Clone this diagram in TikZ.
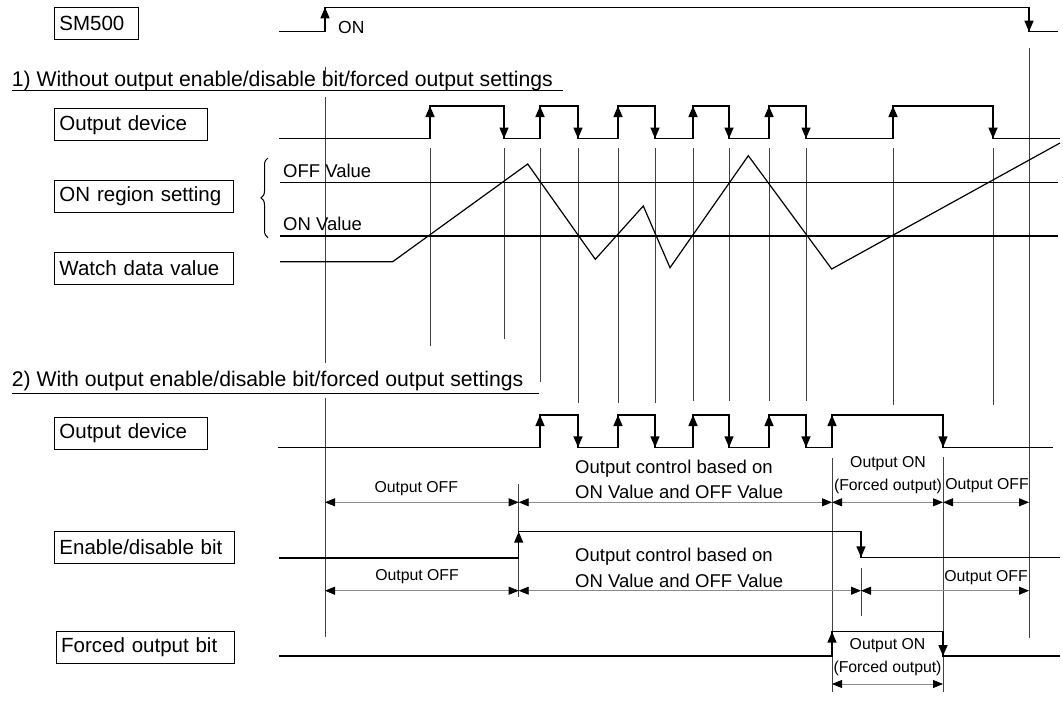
\documentclass[tikz,border=0pt]{standalone}
\usepackage{fontspec}
\setmainfont{Liberation Sans}
\usepackage{tikz}
\usetikzlibrary{positioning, arrows.meta, decorations.pathreplacing}
\definecolor{dimgray}{HTML}{8C8C8C}
\definecolor{guidegray}{HTML}{404040}

\begin{document}
\begin{tikzpicture}[x=1pt, y=-1pt,
    lbox/.style={draw, line width=0.9pt, anchor=north west, minimum height=32pt,
                 inner xsep=5pt, inner ysep=0pt, align=left,
                 font=\fontsize{20.5}{25}\selectfont},
    hdg/.style={anchor=base west, inner sep=0pt, font=\fontsize{21.2}{25}\selectfont},
    midtxt/.style={inner sep=0pt, font=\fontsize{18.5}{25.5}\selectfont},
    smalltxt/.style={inner sep=0pt, align=center, font=\fontsize{15.8}{23}\selectfont},
    sigline/.style={line width=1.5pt},
    sigarr/.style={line width=1.5pt, -{Triangle[length=11pt, width=9pt]}},
    guide/.style={line width=0.9pt, guidegray},
    dimline/.style={line width=0.8pt, dimgray,
                    arrows={Triangle[length=10pt, width=8pt, color=black]-Triangle[length=10pt, width=8pt, color=black]}}]
  \useasboundingbox (0,0) rectangle (1063,701);

  % labels on the left
  \node[lbox, text width=74pt] (sm) at (54,7.3) {SM500};
  \node[hdg] (head1) at (11.7,87) {1) Without output enable/disable bit/forced output settings};
  \draw[line width=1pt] (11.7,90.7) -- (563.3,90.7);
  \node[lbox, text width=142.7pt] (dev1) at (54,108.3) {Output device};
  \node[lbox, text width=169.3pt] (region) at (54,180) {ON region setting};
  \node[lbox, text width=169.3pt] (watch) at (54,251.7) {Watch data value};
  \node[hdg] (head2) at (11.7,386.7) {2) With output enable/disable bit/forced output settings};
  \draw[line width=1pt] (11.7,393.3) -- (539.3,393.3);
  \node[lbox, text width=143pt] (dev2) at (54,417) {Output device};
  \node[lbox, text width=170pt] (enbit) at (54,530.7) {Enable/disable bit};
  \node[lbox, text width=168.3pt] (fobit) at (55.7,630.7) {Forced output bit};

  % guide lines
  \draw[guide] (325,67) -- (325,77);
  \draw[guide] (325,97) -- (325,363);
  \draw[guide] (325,398) -- (325,637);
  \draw[guide] (1029,48) -- (1029,638);
  \draw[guide] (430,148) -- (430,346);
  \draw[guide] (504,148) -- (504,339);
  \draw[guide] (540,148) -- (540,382);
  \foreach \x in {578,618,655}
    \draw[guide] (\x,148) -- (\x,403);
  \foreach \x in {693,729,769,806}
    \draw[guide] (\x,148) -- (\x,401);
  \foreach \x in {893,993}
    \draw[guide] (\x,148) -- (\x,405);
  \draw[guide] (518.7,484) -- (518.7,597);
  \draw[guide] (832,458) -- (832,692);
  \draw[guide] (943,457) -- (943,692);
  \draw[guide] (861,568) -- (861,616);

  % SM500
  \draw[sigline] (279,31.7) -- (325,31.7) -- (325,7.3) -- (1029,7.3) -- (1029,31.7) -- (1058,31.7);
  \draw[sigarr] (325,31.7) -- (325,7.3);
  \draw[sigarr] (1029,7.3) -- (1029,31.7);
  \node[inner sep=0pt, anchor=west, font=\fontsize{17.5}{20}\selectfont] (on) at (338,27.5) {ON};

  % output device, without settings
  \draw[sigline] (279,138.5) -- (430,138.5) -- (430,106) -- (504,106) -- (504,138.5)
    -- (540,138.5) -- (540,106) -- (578,106) -- (578,138.5)
    -- (618,138.5) -- (618,106) -- (655,106) -- (655,138.5)
    -- (693,138.5) -- (693,106) -- (729,106) -- (729,138.5)
    -- (769,138.5) -- (769,106) -- (806,106) -- (806,138.5)
    -- (893,138.5) -- (893,106) -- (993,106) -- (993,138.5) -- (1060,138.5);
  \foreach \x in {430,540,618,693,769,893}
    \draw[sigarr] (\x,138.5) -- (\x,106);
  \foreach \x in {504,578,655,729,806,993}
    \draw[sigarr] (\x,106) -- (\x,138.5);

  % ON region setting
  \draw[line width=1.2pt] (280,182.7) -- (1058,182.7);
  \draw[line width=1.2pt] (280,236) -- (1058,236);
  \node[midtxt, anchor=base west] (offval) at (283,177.7) {OFF Value};
  \node[midtxt, anchor=base west] (onval) at (283,230) {ON Value};
  \draw[line width=1pt, decorate, decoration={brace, amplitude=7pt}] (268,237.7) -- (268,158);

  % watch data value
  \draw[line width=1.2pt] (280,261.7) -- (392.7,261.7) -- (527.7,164) -- (595.3,259.3)
    -- (643.3,206) -- (670,267.7) -- (748.3,155.7) -- (831.7,269) -- (1060,143);

  % output device, with settings
  \draw[sigline] (278,447.3) -- (540,447.3) -- (540,415) -- (578,415) -- (578,447.3)
    -- (618,447.3) -- (618,415) -- (655,415) -- (655,447.3)
    -- (693,447.3) -- (693,415) -- (729,415) -- (729,447.3)
    -- (769,447.3) -- (769,415) -- (806,415) -- (806,447.3)
    -- (832,447.3) -- (832,415) -- (943,415) -- (943,447.3) -- (1053,447.3);
  \foreach \x in {540,618,693,769,832}
    \draw[sigarr] (\x,447.3) -- (\x,415);
  \foreach \x in {578,655,729,806,943}
    \draw[sigarr] (\x,415) -- (\x,447.3);

  \draw[dimline] (325,502.3) -- (518.7,502.3);
  \draw[dimline] (518.7,502.3) -- (832,502.3);
  \draw[dimline] (832,502.3) -- (943,502.3);
  \draw[dimline] (943,502.3) -- (1029,502.3);
  \node[smalltxt] (off1) at (416.3,488.3) {Output OFF};
  \node[midtxt, anchor=west, align=left] (ctrl1) at (575,479.2) {Output control based on\\ON Value and OFF Value};
  \node[smalltxt] (force1) at (888,474.7) {Output ON\\(Forced output)};
  \node[smalltxt] (off2) at (987,486) {Output OFF};

  % enable/disable bit
  \draw[sigline] (279,558) -- (518.7,558) -- (518.7,531.7) -- (861,531.7) -- (861,557.3) -- (1060,557.3);
  \draw[sigarr] (518.7,558) -- (518.7,531.7);
  \draw[sigarr] (861,531.7) -- (861,557.3);

  \draw[dimline] (325,590.7) -- (518.7,590.7);
  \draw[dimline] (518.7,590.7) -- (861,590.7);
  \draw[dimline] (861,590.7) -- (1029,590.7);
  \node[smalltxt] (off3) at (417,576.7) {Output OFF};
  \node[midtxt, anchor=west, align=left] (ctrl2) at (575,567.7) {Output control based on\\ON Value and OFF Value};
  \node[smalltxt] (off4) at (986,577.7) {Output OFF};

  % forced output bit
  \draw[sigline] (279,656) -- (832,656) -- (832,631.7) -- (943,631.7) -- (943,656) -- (1060,656);
  \draw[sigarr] (832,656) -- (832,631.7);
  \draw[sigarr] (943,631.7) -- (943,656);
  \node[smalltxt] (force2) at (887.5,657.5) {Output ON\\(Forced output)};
  \draw[dimline] (832,684) -- (943,684);
\end{tikzpicture}
\end{document}
